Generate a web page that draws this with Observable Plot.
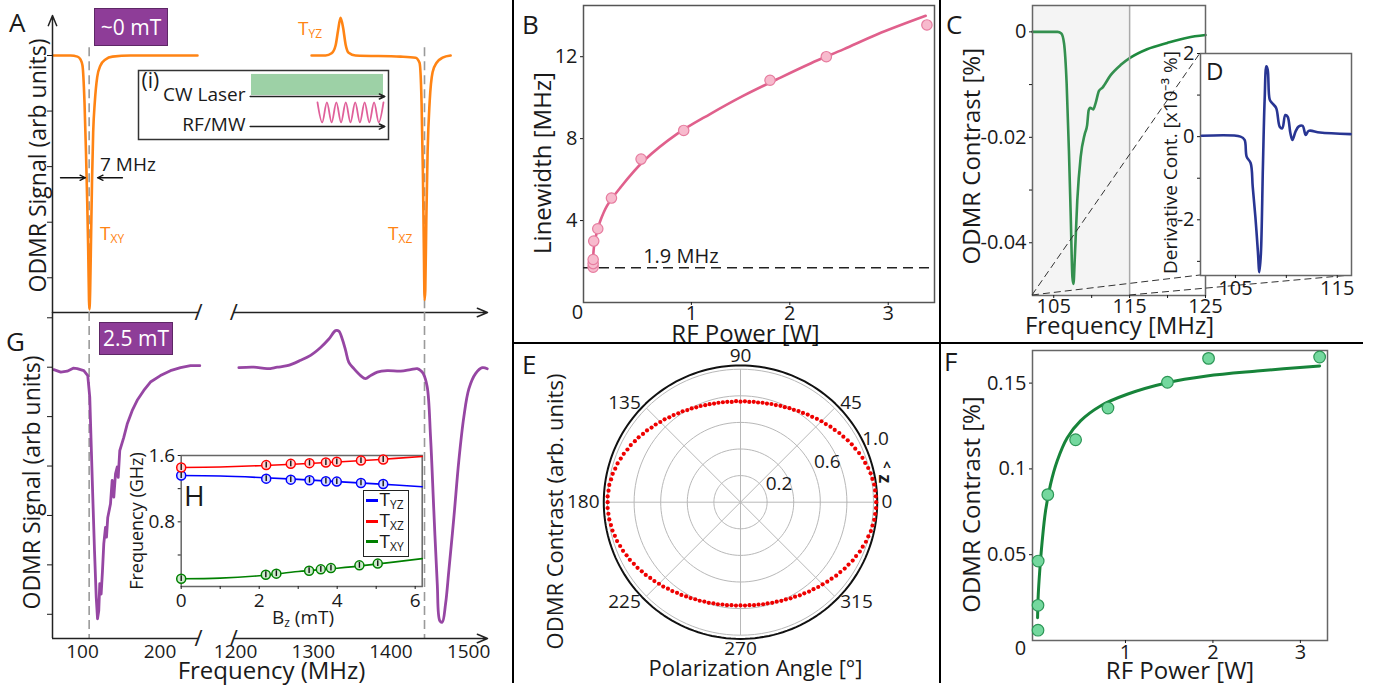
<!DOCTYPE html>
<html>
<head>
<meta charset="utf-8">
<script src="https://cdn.jsdelivr.net/npm/d3@7"></script>
<script src="https://cdn.jsdelivr.net/npm/@observablehq/plot@0.6"></script>
<style>
  html, body { margin: 0; padding: 0; background: #fff; }
  #fig { position: relative; width: 1380px; height: 690px; overflow: hidden; background: #fff;
         font-family: "Open Sans", sans-serif; color: #1a1a1a; }
  #fig > svg { position: absolute; left: 0; top: 0; }
  .t { position: absolute; line-height: 1; white-space: nowrap; }
  .t sub { font-size: 0.63em; vertical-align: -0.28em; line-height: 1; }
  .rule { position: absolute; background: #000; }
  .tag { position: absolute; background: #8e3d98; border: 1px solid #5e2766; color: #fff; display: flex;
         align-items: center; justify-content: center; line-height: 1; font-size: 21px; box-sizing: border-box; }
</style>
</head>
<body>
<div id="fig"></div>
<script>
// ================= DATA =================
// Panel A (~0 mT): frequency (MHz) and ODMR signal (arb. units)
const aLeftF  = [62.6, 84.5, 93.5, 97.4, 100, 102.6, 104.5, 106.1, 107.4, 108.4, 109.0, 109.9, 111.0, 112.3, 113.8, 115.9, 119.0, 123.2, 129.7, 138.7, 161.9, 248.4];
const aLeftV  = [0, 0, -0.02, -0.07, -0.18, -0.84, -1.73, -2.63, -3.52, -4.41, -4.57, -4.23, -3.34, -2.27, -1.38, -0.84, -0.39, -0.18, -0.07, -0.02, 0, 0];
const aRightF = [1297.8, 1315.8, 1323.6, 1328.7, 1331.9, 1335.1, 1338.4, 1341.6, 1345.5, 1354.4, 1412.4, 1431.7, 1436.8, 1439.4, 1441.1, 1442.4, 1443.3, 1444.2, 1445.5, 1447.2, 1449.8, 1453.6, 1458.8, 1466.5, 1476.8];
const aRightV = [0, 0, 0.04, 0.18, 0.45, 0.68, 0.5, 0.2, 0.05, 0, -0.02, -0.04, -0.13, -0.84, -2.09, -3.52, -4.40, -4.23, -2.98, -1.73, -0.84, -0.30, -0.13, -0.04, 0];
const resonanceF = [108.6, 1443.2];
const aTicks = [0, -1, -2, -3, -4];
const widthArrows = [{from: 71.6, to: 103.9, y: -2.2}, {from: 151.6, to: 119.4, y: -2.2}];

// Panel G (2.5 mT)
const gLeftF  = [63.0, 72, 80.3, 88, 93.2, 101.7, 106.8, 109.4, 111.2, 113.3, 115.5, 117.7, 119.4, 121.0, 122.3, 124.1, 125.8, 127.5, 129.7, 131.0, 132.6, 136.1, 138.3, 140.4, 142.6, 144.8, 146.1, 148.1, 153.3, 157.7, 164.1, 170.6, 179.1, 187.7, 200.6, 213.5, 226.5, 239.4, 251.4];
const gLeftV  = [-0.05, -0.1, -0.08, -0.02, -0.03, -0.07, -0.17, -0.61, -1.55, -2.63, -3.71, -4.65, -5.09, -4.93, -4.38, -4.59, -4.12, -3.57, -3.24, -3.44, -3.04, -2.77, -2.29, -2.63, -2.16, -2.02, -2.23, -1.69, -1.42, -1.15, -0.88, -0.67, -0.47, -0.30, -0.17, -0.07, -0.01, 0.03, 0.03];
const gRightF = [1204.2, 1223.6, 1240.8, 1253.7, 1266.5, 1283.7, 1296.5, 1309.4, 1320.1, 1328.7, 1332.9, 1337.3, 1341.6, 1345.8, 1352.3, 1360.9, 1367.3, 1373.7, 1382.4, 1395.2, 1412.4, 1425.2, 1433.9, 1439, 1441.6, 1446.7, 1451, 1455.2, 1459.6, 1462.9, 1466, 1470.3, 1474.5, 1481, 1487.4, 1493.8, 1500.3, 1508.9, 1517.6, 1524.0];
const gRightV = [-0.01, 0, -0.03, 0, 0.03, 0.14, 0.24, 0.40, 0.57, 0.74, 0.73, 0.57, 0.34, 0.10, -0.03, -0.17, -0.23, -0.17, -0.10, -0.07, -0.08, -0.05, -0.03, -0.08, -0.13, -0.40, -1.42, -2.90, -4.38, -5.13, -5.16, -4.79, -4.12, -3.04, -1.89, -1.01, -0.44, -0.13, -0.01, -0.03];
const gTicks = [1, 0, -1, -2, -3, -4, -5];
const gXTicks = [100, 200, 1200, 1300, 1400, 1500];

// Panel H: resonance frequency (GHz) vs Bz (mT)
const hXZ_B = [0, 2.18, 2.81, 3.29, 3.71, 3.99, 4.61, 5.18];
const hXZ_F = [1.455, 1.484, 1.499, 1.508, 1.515, 1.524, 1.539, 1.552];
const hYZ_B = [0, 2.18, 2.81, 3.29, 3.71, 3.99, 4.61, 5.18];
const hYZ_F = [1.358, 1.321, 1.309, 1.302, 1.290, 1.285, 1.269, 1.257];
const hXY_B = [0, 2.17, 2.44, 3.28, 3.58, 3.84, 4.57, 5.04];
const hXY_F = [0.114, 0.162, 0.175, 0.211, 0.227, 0.242, 0.275, 0.296];
const hFitB   = [0, 1, 2, 3, 4, 5, 6.18];
const hFitXZ  = [1.455, 1.462, 1.477, 1.498, 1.522, 1.549, 1.588];
const hFitYZ  = [1.358, 1.352, 1.335, 1.312, 1.285, 1.258, 1.224];
const hFitXY  = [0.114, 0.121, 0.150, 0.200, 0.240, 0.290, 0.356];
const hErr = 0.035;

// Panel B: linewidth (MHz) vs RF power (W)
const bPtsX = [0.002, 0.002, 0.002, 0.008, 0.049, 0.188, 0.489, 0.922, 1.799, 2.371, 3.393];
const bPtsY = [1.72, 1.9, 2.1, 3.0, 3.6, 5.1, 7.0, 8.4, 10.85, 12.0, 13.55];
const bFitX = [0.0, 0.01, 0.035, 0.076, 0.144, 0.28, 0.52, 0.855, 1.19, 1.53, 1.87, 2.21, 2.55, 2.89, 3.38];
const bFitY = [1.97, 2.7, 3.35, 4.0, 4.73, 5.62, 6.93, 8.23, 9.2, 10.1, 10.9, 11.67, 12.37, 13.1, 14.0];
const bFloor = 1.7;

// Panel C: ODMR contrast (%) vs frequency (MHz)
const cF = [102.2, 105.0, 105.5, 106.0, 106.36, 106.7, 107.0, 107.24, 107.46, 107.6, 107.76, 108.1, 108.55, 109.1, 109.4, 109.6, 109.8, 110.2, 110.5, 110.96, 111.4, 112.5, 113.8, 115.1, 117.3, 119.96, 122.6, 125];
const cV = [0, 0, 0, -0.0003, -0.0022, -0.0098, -0.0225, -0.035, -0.0465, -0.0478, -0.0434, -0.032, -0.0237, -0.0193, -0.0177, -0.0149, -0.0144, -0.0147, -0.0136, -0.0112, -0.0106, -0.0082, -0.0063, -0.0049, -0.0033, -0.0021, -0.0011, -0.0006];
const cZoom = [102.2, 115];

// Panel D: derivative contrast (x10^-3 %) vs frequency (MHz)
const dF = [101.7, 105.5, 105.9, 106.1, 106.5, 106.7, 106.96, 107.2, 107.35, 107.5, 107.7, 107.87, 108.04, 108.17, 108.37, 108.6, 109.0, 109.35, 109.6, 109.9, 110.13, 110.4, 110.6, 110.9, 111.2, 111.6, 111.9, 112.2, 113.3, 116.3];
const dV = [0.02, 0, -0.08, -0.48, -0.64, -1.21, -1.93, -2.74, -3.26, -2.82, -0.72, 0.89, 1.69, 1.61, 0.89, 0.81, 0.69, 0.24, 0.2, 0.52, 0.48, 0.08, -0.08, 0.12, 0.24, 0.26, 0.04, 0.14, 0.1, 0.06];

// Panel E: ODMR contrast vs polarization angle (2.5 deg steps)
const eAngles = d3.range(0, 360, 2.5);
const eRadius = [
  1.020, 1.018, 1.016, 1.014, 1.007, 1.002, 0.994, 0.983, 0.976, 0.965, 0.952, 0.943, 0.931, 0.917, 0.907, 0.893, 0.883, 0.870,
  0.861, 0.850, 0.838, 0.830, 0.819, 0.812, 0.802, 0.797, 0.788, 0.784, 0.777, 0.774, 0.768, 0.766, 0.761, 0.761, 0.757, 0.759,
  0.756, 0.760, 0.757, 0.761, 0.763, 0.766, 0.768, 0.773, 0.776, 0.783, 0.787, 0.795, 0.800, 0.810, 0.816, 0.826, 0.833, 0.845,
  0.853, 0.865, 0.873, 0.886, 0.895, 0.908, 0.917, 0.930, 0.938, 0.950, 0.958, 0.969, 0.975, 0.984, 0.988, 0.995, 0.996, 1.000,
  0.999, 1.000, 0.997, 0.995, 0.989, 0.986, 0.978, 0.973, 0.963, 0.956, 0.945, 0.938, 0.926, 0.918, 0.906, 0.898, 0.886, 0.878,
  0.867, 0.860, 0.849, 0.842, 0.832, 0.827, 0.818, 0.813, 0.805, 0.802, 0.795, 0.793, 0.787, 0.786, 0.781, 0.781, 0.777, 0.778,
  0.776, 0.778, 0.777, 0.781, 0.781, 0.786, 0.787, 0.793, 0.796, 0.803, 0.807, 0.815, 0.820, 0.830, 0.836, 0.847, 0.854, 0.865,
  0.873, 0.885, 0.894, 0.907, 0.916, 0.929, 0.938, 0.951, 0.959, 0.971, 0.978, 0.989, 0.995, 1.004, 1.008, 1.014, 1.016, 1.020];
const eRings = [0.2, 0.4, 0.6, 0.8, 1.0];
const eRingLabels = [0.2, 0.6, 1.0];
const eAngleTicks = [0, 45, 90, 135, 180, 225, 270, 315];

// Panel F: ODMR contrast (%) vs RF power (W)
const fPtsX = [0.0, 0.0, 0.002, 0.112, 0.43, 0.80, 1.48, 1.95, 3.22];
const fPtsY = [0.006, 0.0205, 0.0463, 0.085, 0.117, 0.1355, 0.1505, 0.1644, 0.1652];
const fFitX = [-0.005, 0.003, 0.017, 0.048, 0.086, 0.143, 0.219, 0.333, 0.486, 0.714, 1.02, 1.477, 1.93, 2.505, 3.22];
const fFitY = [0.0133, 0.027, 0.0386, 0.058, 0.0755, 0.091, 0.1046, 0.118, 0.128, 0.1367, 0.1435, 0.1502, 0.1541, 0.157, 0.16];

// Inset (i): pulse scheme
const pulseSeq = [{ch: "CW Laser", t0: 0, t1: 1}, {ch: "RF/MW", t0: 0.5, t1: 1}];
const mwWave = [1, -1, 1, -1, 1, -1, 1, -1, 1, -1, 1, -1, 1, -1, 1];

// ================= HELPERS =================
const W = 1380, H = 690;
const FONT = "'Open Sans', sans-serif";
const ORANGE = "#ff8414", PURPLE = "#9646a3", PINK = "#e0608c", GREEN_C = "#1e8a3e",
      NAVY = "#283593", GREEN_F = "#17843a", RED = "#ee0000";
const fig = document.getElementById("fig");
const style = fs => ({fontFamily: FONT, fontSize: fs + "px", overflow: "visible", background: "transparent", color: "#1a1a1a"});
const box = (l, t, r, b) => ({width: W, height: H, marginLeft: l, marginTop: t, marginRight: W - r, marginBottom: H - b});
const pairs = (xs, ys) => xs.map((x, i) => ({x, y: ys[i]}));
const c = v => () => v;
const lbl = s => [s];
const add = el => { fig.appendChild(el); return el; };
const mid = {textAnchor: "middle", lineAnchor: "middle"};
const sx = (domain, extra = {}) => ({domain, label: null, ...extra});

// shared broken frequency axis for A and G
const agDomain = [61.3, 252.3, 1196, 1524.3];
const agX = {type: "linear", domain: agDomain, range: [52, 200, 232, 487], label: null};
const breakF = [249.7, 1197.5];

// ================= PANEL A =================
const aY = [-4.625, 0.72];
add(Plot.plot({
  ...box(52, 15, 487, 312), style: style(20), x: {...agX, axis: null}, y: sx(aY),
  marks: [
    Plot.ruleX(resonanceF, {y1: c(0.14), y2: c(aY[0]), stroke: "#9a9a9a", strokeWidth: 1.6, strokeDasharray: "9,5"}),
    Plot.line(pairs(aLeftF, aLeftV), {x: "x", y: "y", stroke: ORANGE, strokeWidth: 2.6, curve: "monotone-x"}),
    Plot.line(pairs(aRightF, aRightV), {x: "x", y: "y", stroke: ORANGE, strokeWidth: 2.6, curve: "monotone-x"}),
    Plot.axisY({ticks: aTicks, tickSize: 5, tickFormat: () => "", label: null}),
    Plot.arrow([0], {x1: c(agDomain[0]), x2: c(agDomain[0]), y1: c(aY[0]), y2: c(aY[1]), stroke: "#222", strokeWidth: 1.5, headLength: 11, headAngle: 45}),
    Plot.ruleY([aY[0]], {x1: c(agDomain[0]), x2: c(breakF[0]), stroke: "#222", strokeWidth: 1.5}),
    Plot.arrow([0], {x1: c(breakF[1]), x2: c(agDomain[3]), y1: c(aY[0]), y2: c(aY[0]), stroke: "#222", strokeWidth: 1.5, headLength: 11, headAngle: 45}),
    Plot.text(breakF, {x: d => d, y: c(aY[0]), text: c("/"), fontSize: 22, fill: "#222"}),
    Plot.arrow(widthArrows, {x1: "from", x2: "to", y1: "y", y2: "y", stroke: "#111", strokeWidth: 1.3, headLength: 7, headAngle: 50}),
    Plot.text(lbl("ODMR Signal (arb units)"), {text: d => d, frameAnchor: "left", dx: -14, dy: 1.5, rotate: -90, fontSize: 23, ...mid})
  ]
}));

// Inset (i)
const laneY = {"CW Laser": 0.623, "RF/MW": 0.188};
add(Plot.plot({
  ...box(138, 70, 388, 139), style: style(19), x: sx([-0.856, 1.038], {axis: null}), y: sx([0, 1], {axis: null}),
  marks: [
    Plot.frame({fill: "white", stroke: "#333", strokeWidth: 1.5}),
    Plot.rect(pulseSeq.filter(d => d.ch === "CW Laser"), {x1: "t0", x2: "t1", y1: d => laneY[d.ch] + 0.015, y2: d => laneY[d.ch] + 0.32, fill: "#9dd1a6"}),
    Plot.line(mwWave.map((v, i) => ({t: 0.5 + i * 0.5 / (mwWave.length - 1), v})), {x: "t", y: d => laneY["RF/MW"] + 0.205 + 0.145 * d.v, stroke: "#e0609a", strokeWidth: 1.8, curve: "catmull-rom"}),
    Plot.arrow(pulseSeq, {x1: c(-0.01), x2: c(1.01), y1: d => laneY[d.ch], y2: d => laneY[d.ch], stroke: "#222", strokeWidth: 1.5, headLength: 6, headAngle: 50}),
    Plot.text(pulseSeq, {x: c(0), y: d => laneY[d.ch] + 0.02, text: "ch", textAnchor: "end", dx: -6, fontSize: 19}),
    Plot.text(lbl("(i)"), {text: d => d, frameAnchor: "top-left", textAnchor: "start", lineAnchor: "top", dx: 3, dy: 3, fontSize: 21})
  ]
}));

// ================= PANEL G =================
const gY = [-5.49, 1.107];
add(Plot.plot({
  ...box(52, 312, 487, 638), style: style(19), x: agX, y: sx(gY),
  marks: [
    Plot.ruleX(resonanceF, {stroke: "#9a9a9a", strokeWidth: 1.6, strokeDasharray: "9,5"}),
    Plot.line(pairs(gLeftF, gLeftV), {x: "x", y: "y", stroke: PURPLE, strokeWidth: 2.8, curve: "linear"}),
    Plot.line(pairs(gRightF, gRightV), {x: "x", y: "y", stroke: PURPLE, strokeWidth: 2.8, curve: "catmull-rom"}),
    Plot.axisY({ticks: gTicks, tickSize: 5, tickFormat: () => "", label: null}),
    Plot.ruleX([agDomain[0]], {stroke: "#222", strokeWidth: 1.5}),
    Plot.ruleY([gY[0]], {x1: c(agDomain[0]), x2: c(breakF[0]), stroke: "#222", strokeWidth: 1.5}),
    Plot.arrow([0], {x1: c(breakF[1]), x2: c(agDomain[3]), y1: c(gY[0]), y2: c(gY[0]), stroke: "#222", strokeWidth: 1.5, headLength: 11, headAngle: 45}),
    Plot.text(breakF, {x: d => d, y: c(gY[0]), text: c("/"), fontSize: 22, fill: "#222"}),
    Plot.axisX({ticks: gXTicks, tickSize: 0, tickPadding: 6, tickFormat: String, label: null}),
    Plot.text(lbl("ODMR Signal (arb units)"), {text: d => d, frameAnchor: "left", dx: -19.5, dy: 7, rotate: -90, fontSize: 23, ...mid}),
    Plot.text(lbl("Frequency (MHz)"), {text: d => d, frameAnchor: "bottom", dx: 1.5, dy: 33, fontSize: 24, ...mid})
  ]
}));

// ================= PANEL H (inset) =================
const hSeries = [
  {name: "YZ", color: "#0000ff", fill: "#d6dcff", b: hYZ_B, f: hYZ_F, fit: hFitYZ},
  {name: "XZ", color: "#ff0000", fill: "#ffd4d4", b: hXZ_B, f: hXZ_F, fit: hFitXZ},
  {name: "XY", color: "#008000", fill: "#cdeccd", b: hXY_B, f: hXY_F, fit: hFitXY}
];
add(Plot.plot({
  ...box(180.7, 455, 421.7, 586), style: style(19), x: sx([0, 6.18]), y: sx([0.02, 1.6]),
  marks: [
    Plot.frame({fill: "white", stroke: "#666", strokeWidth: 1.5}),
    ...hSeries.map(s => Plot.line(pairs(hFitB, s.fit), {x: "x", y: "y", stroke: s.color, strokeWidth: 1.6, curve: "catmull-rom"})),
    ...hSeries.map(s => Plot.dot(pairs(s.b, s.f), {x: "x", y: "y", r: 4.5, stroke: s.color, fill: s.fill, strokeWidth: 1.5})),
    ...hSeries.map(s => Plot.ruleX(pairs(s.b, s.f), {x: "x", y1: d => d.y - hErr, y2: d => d.y + hErr, stroke: "#111", strokeWidth: 1.4})),
    Plot.axisY({ticks: [1.6, 0.8], tickSize: 3, tickPadding: 3, tickFormat: d => d.toFixed(1), label: null}),
    Plot.axisY({ticks: [1.2, 0.4], tickSize: 3, tickFormat: () => "", label: null}),
    Plot.axisX({ticks: [0, 2, 4, 6], tickSize: 3, tickPadding: 4, tickFormat: String, label: null}),
    Plot.axisX({ticks: [1, 3, 5], tickSize: 3, tickFormat: () => "", label: null}),
    Plot.text(lbl("Frequency (GHz)"), {text: d => d, frameAnchor: "left", dx: -43.7, rotate: -90, fontSize: 18, ...mid})
  ]
}));

// ================= PANEL B =================
add(Plot.plot({
  ...box(583, 5, 934, 302), style: style(20), x: sx([-0.096, 3.47]), y: sx([0, 14.5]),
  marks: [
    Plot.frame({stroke: "#555", strokeWidth: 1.5}),
    Plot.ruleY([bFloor], {stroke: "#222", strokeWidth: 1.5, strokeDasharray: "10,6"}),
    Plot.text(lbl("1.9 MHz"), {text: d => d, x: c(0.893), y: c(bFloor), dy: -11, fontSize: 20}),
    Plot.line(pairs(bFitX, bFitY), {x: "x", y: "y", stroke: PINK, strokeWidth: 2.6, curve: "catmull-rom"}),
    Plot.dot(pairs(bPtsX, bPtsY), {x: "x", y: "y", r: 5.2, fill: "#f7bacd", stroke: "#e67c9f", strokeWidth: 1.2}),
    Plot.axisX({ticks: [1, 2, 3], tickSize: 3, tickPadding: 0, tickFormat: String, label: null}),
    Plot.axisY({ticks: [4, 8, 12], tickSize: 3, tickPadding: 3, tickFormat: String, label: null}),
    Plot.text(lbl("0"), {text: d => d, frameAnchor: "bottom-left", dx: -6, dy: 10, ...mid}),
    Plot.text(lbl("Linewidth [MHz]"), {text: d => d, frameAnchor: "left", dx: -40, dy: 9, rotate: -90, fontSize: 24, ...mid}),
    Plot.text(lbl("RF Power [W]"), {text: d => d, frameAnchor: "bottom", dx: -13.5, dy: 32, fontSize: 24, ...mid})
  ]
}));

// ================= PANEL C =================
const cY = [-0.05, 0.005], cX = [102.2, 125];
const chartC = add(Plot.plot({
  ...box(1032, 5, 1205, 295), style: style(20), x: sx(cX), y: sx(cY),
  marks: [
    Plot.line(pairs(cF, cV), {x: "x", y: "y", stroke: GREEN_C, strokeWidth: 2.6, curve: "monotone-x"}),
    Plot.rect([cZoom], {x1: d => d[0], x2: d => d[1], fill: "#b4b4b4", fillOpacity: 0.15}),
    Plot.ruleX([cZoom[1]], {stroke: "#aaa", strokeWidth: 1.5}),
    Plot.frame({stroke: "#666", strokeWidth: 1.5}),
    Plot.axisY({ticks: [0, -0.02, -0.04], tickSize: 3, tickPadding: 3, tickFormat: String, label: null}),
    Plot.axisY({ticks: [-0.01, -0.03], tickSize: 3, tickFormat: () => "", label: null}),
    Plot.axisX({ticks: [105, 115, 125], tickSize: 3, tickPadding: 0, tickFormat: String, label: null}),
    Plot.axisX({ticks: [110, 120], tickSize: 3, tickFormat: () => "", label: null}),
    Plot.text(lbl("ODMR Contrast [%]"), {text: d => d, frameAnchor: "left", dx: -60, dy: 5.7, rotate: -90, fontSize: 24, ...mid}),
    Plot.text(lbl("Frequency [MHz]"), {text: d => d, frameAnchor: "bottom", dx: 0.5, dy: 31, fontSize: 24, ...mid})
  ]
}));

// overlay for zoom guide lines (filled after D)
const guide = add(d3.create("svg").attr("width", W).attr("height", H).node());

// ================= PANEL D =================
const dY = [-3.34, 2.0], dX = [101.57, 116.4];
const chartD = add(Plot.plot({
  ...box(1200, 53, 1351, 275), style: style(20), x: sx(dX), y: sx(dY),
  marks: [
    Plot.frame({fill: "white", stroke: "#666", strokeWidth: 1.5}),
    Plot.line(pairs(dF, dV), {x: "x", y: "y", stroke: NAVY, strokeWidth: 2.6, curve: "catmull-rom"}),
    Plot.axisY({ticks: [2, 0, -2], tickSize: 3, tickPadding: 3, tickFormat: String, label: null}),
    Plot.axisY({ticks: [1, -1, -3], tickSize: 3, tickFormat: () => "", label: null}),
    Plot.axisX({ticks: [105, 115], tickSize: 3, tickPadding: 2, tickFormat: String, label: null}),
    Plot.axisX({ticks: [110], tickSize: 3, tickFormat: () => "", label: null}),
    Plot.text(lbl("Derivative Cont. [x10\u207B\u00B3 %]"), {text: d => d, frameAnchor: "left", dx: -30, dy: -2, rotate: -90, fontSize: 19, ...mid})
  ]
}));

// zoom guide lines from C to D
{
  const cx = chartC.scale("x"), cy = chartC.scale("y"), dx = chartD.scale("x"), dy = chartD.scale("y");
  const c0 = [cx.apply(cZoom[0]), cy.apply(cY[0])], c1 = [cx.apply(cZoom[1]), cy.apply(cY[0])];
  const dTL = [dx.apply(dX[0]), dy.apply(dY[1])], dBL = [dx.apply(dX[0]), dy.apply(dY[0])], dBR = [dx.apply(dX[1]), dy.apply(dY[0])];
  const g = d3.select(guide);
  [[c0, dTL], [c0, dBL], [c1, dBR]].forEach(([p, q]) => g.append("line")
    .attr("x1", p[0]).attr("y1", p[1]).attr("x2", q[0]).attr("y2", q[1])
    .attr("stroke", "#333").attr("stroke-width", 1).attr("stroke-dasharray", "7,4"));
}
fig.appendChild(chartD);

// ================= PANEL E (polar) =================
const rad = a => a * Math.PI / 180;
const ringPts = eRings.flatMap(r => d3.range(0, 361, 3).map(a => ({ring: r, x: r * Math.cos(rad(a)), y: r * Math.sin(rad(a))})));
const outerPts = d3.range(0, 361, 2).map(a => ({x: 1.028 * Math.cos(rad(a)), y: 1.028 * Math.sin(rad(a))}));
const eData = eAngles.map((a, i) => ({a, r: eRadius[i]}));
const anchorOf = a => Math.cos(rad(a)) > 0.1 ? "start" : Math.cos(rad(a)) < -0.1 ? "end" : "middle";
const angR = a => anchorOf(a) === "middle" ? 1.1 : 1.06;
add(Plot.plot({
  ...box(580.4, 342.1, 899.6, 661.3), style: style(19),
  x: sx([-1.2, 1.2], {axis: null}), y: sx([-1.2, 1.2], {axis: null}),
  marks: [
    Plot.line(ringPts, {x: "x", y: "y", z: "ring", stroke: "#b8b8b8", strokeWidth: 1}),
    Plot.link(eAngleTicks, {x1: c(0), y1: c(0), x2: a => Math.cos(rad(a)), y2: a => Math.sin(rad(a)), stroke: "#b8b8b8", strokeWidth: 1}),
    Plot.line(outerPts, {x: "x", y: "y", stroke: "#111", strokeWidth: 2}),
    Plot.dot(eData, {x: d => d.r * Math.cos(rad(d.a)), y: d => d.r * Math.sin(rad(d.a)), r: 2.1, fill: RED}),
    Plot.text(eRingLabels, {x: r => (r + 0.12) * Math.cos(rad(25)), y: r => (r + 0.12) * Math.sin(rad(25)), text: r => r.toFixed(1)}),
    ...["start", "end", "middle"].map(anc => Plot.text(eAngleTicks.filter(a => anchorOf(a) === anc), {
      x: a => angR(a) * Math.cos(rad(a)), y: a => angR(a) * Math.sin(rad(a)), text: a => String(a), textAnchor: anc})),
    Plot.text(lbl("ODMR Contrast (arb. units)"), {text: d => d, frameAnchor: "left", dx: -25.4, dy: 9.3, rotate: -90, fontSize: 22, ...mid}),
    Plot.text(lbl("Polarization Angle [°]"), {text: d => d, frameAnchor: "bottom", dx: 15, dy: 7, fontSize: 22, ...mid})
  ]
}));

// ================= PANEL F =================
add(Plot.plot({
  ...box(1032, 350, 1327, 640), style: style(20), x: sx([-0.063, 3.31]), y: sx([0, 0.169]),
  marks: [
    Plot.frame({stroke: "#666", strokeWidth: 1.5}),
    Plot.line(pairs(fFitX, fFitY), {x: "x", y: "y", stroke: GREEN_F, strokeWidth: 3, curve: "catmull-rom"}),
    Plot.dot(pairs(fPtsX, fPtsY), {x: "x", y: "y", r: 5.8, fill: "#74d89e", stroke: "#2c9656", strokeWidth: 1.2}),
    Plot.axisX({ticks: [1, 2, 3], tickSize: 3, tickPadding: 1, tickFormat: String, label: null}),
    Plot.axisY({ticks: [0.05, 0.1, 0.15], tickSize: 3, tickPadding: 3, tickFormat: String, label: null}),
    Plot.text(lbl("0"), {text: d => d, frameAnchor: "bottom-left", dx: -12, dy: 8, ...mid}),
    Plot.text(lbl("ODMR Contrast [%]"), {text: d => d, frameAnchor: "left", dx: -60, dy: 9, rotate: -90, fontSize: 24, ...mid}),
    Plot.text(lbl("RF Power [W]"), {text: d => d, frameAnchor: "bottom", dx: 0, dy: 31, fontSize: 24, ...mid})
  ]
}));

// ================= HTML ANNOTATIONS =================
function put(html, css, cls = "t") {
  const d = document.createElement("div"); d.className = cls; d.innerHTML = html;
  Object.assign(d.style, css); fig.appendChild(d); return d;
}
// panel borders
put("", {left: "512px", top: "0px", width: "2px", height: "683px"}, "rule");
put("", {left: "939px", top: "0px", width: "2px", height: "683px"}, "rule");
put("", {left: "512px", top: "342px", width: "851px", height: "2px"}, "rule");

// panel letters
[["A", 9, 8.5, 26], ["B", 522, 10.5, 26], ["C", 946, 10.5, 26], ["D", 1206, 59, 24],
 ["E", 522, 350.5, 26], ["F", 944, 347.5, 26], ["G", 6, 327.5, 26], ["H", 184, 481, 28]]
  .forEach(([s, l, t, fs]) => put(s, {left: l + "px", top: t + "px", fontSize: fs + "px"}));

// field tags
put("~0 mT", {left: "94px", top: "8px", width: "74px", height: "38px"}, "tag");
put("2.5 mT", {left: "99px", top: "322px", width: "74px", height: "33px"}, "tag");

// transition labels in A
[["YZ", 298, 18.7], ["XY", 100, 223.7], ["XZ", 388, 223.7]]
  .forEach(([s, l, t]) => put("T<sub>" + s + "</sub>", {left: l + "px", top: t + "px", fontSize: "19px", color: ORANGE}));
put("7 MHz", {left: "100px", top: "154.7px", fontSize: "19px"});

// z-hat mark in E
put("^", {left: "883px", top: "460px", fontSize: "14px", fontWeight: "bold"});
put("z", {left: "882px", top: "470px", fontSize: "18px", fontWeight: "bold", transform: "rotate(90deg)", transformOrigin: "50% 50%"});

// B_z label in H
put("B<sub>z</sub> (mT)", {left: "303px", top: "607.9px", fontSize: "19px", transform: "translateX(-50%)"});

// legend in H
const leg = put("", {left: "363px", top: "490px", width: "46px", height: "67px", border: "1.5px solid #222",
  background: "#fff", boxSizing: "border-box", lineHeight: "1"});
[500.7, 522, 542.3].forEach((ry, i) => {
  const s = hSeries[i];
  const ln = document.createElement("div");
  Object.assign(ln.style, {position: "absolute", left: "2.2px", top: (ry - 490 - 1.5 - 1.5) + "px", width: "11.5px", height: "3px", background: s.color});
  leg.appendChild(ln);
  const tx = document.createElement("div"); tx.className = "t";
  tx.innerHTML = "T<sub>" + s.name + "</sub>";
  Object.assign(tx.style, {left: "15.5px", top: (ry - 490 - 1.5 - 10.1) + "px", fontSize: "19px"});
  leg.appendChild(tx);
});
</script>
</body>
</html>
